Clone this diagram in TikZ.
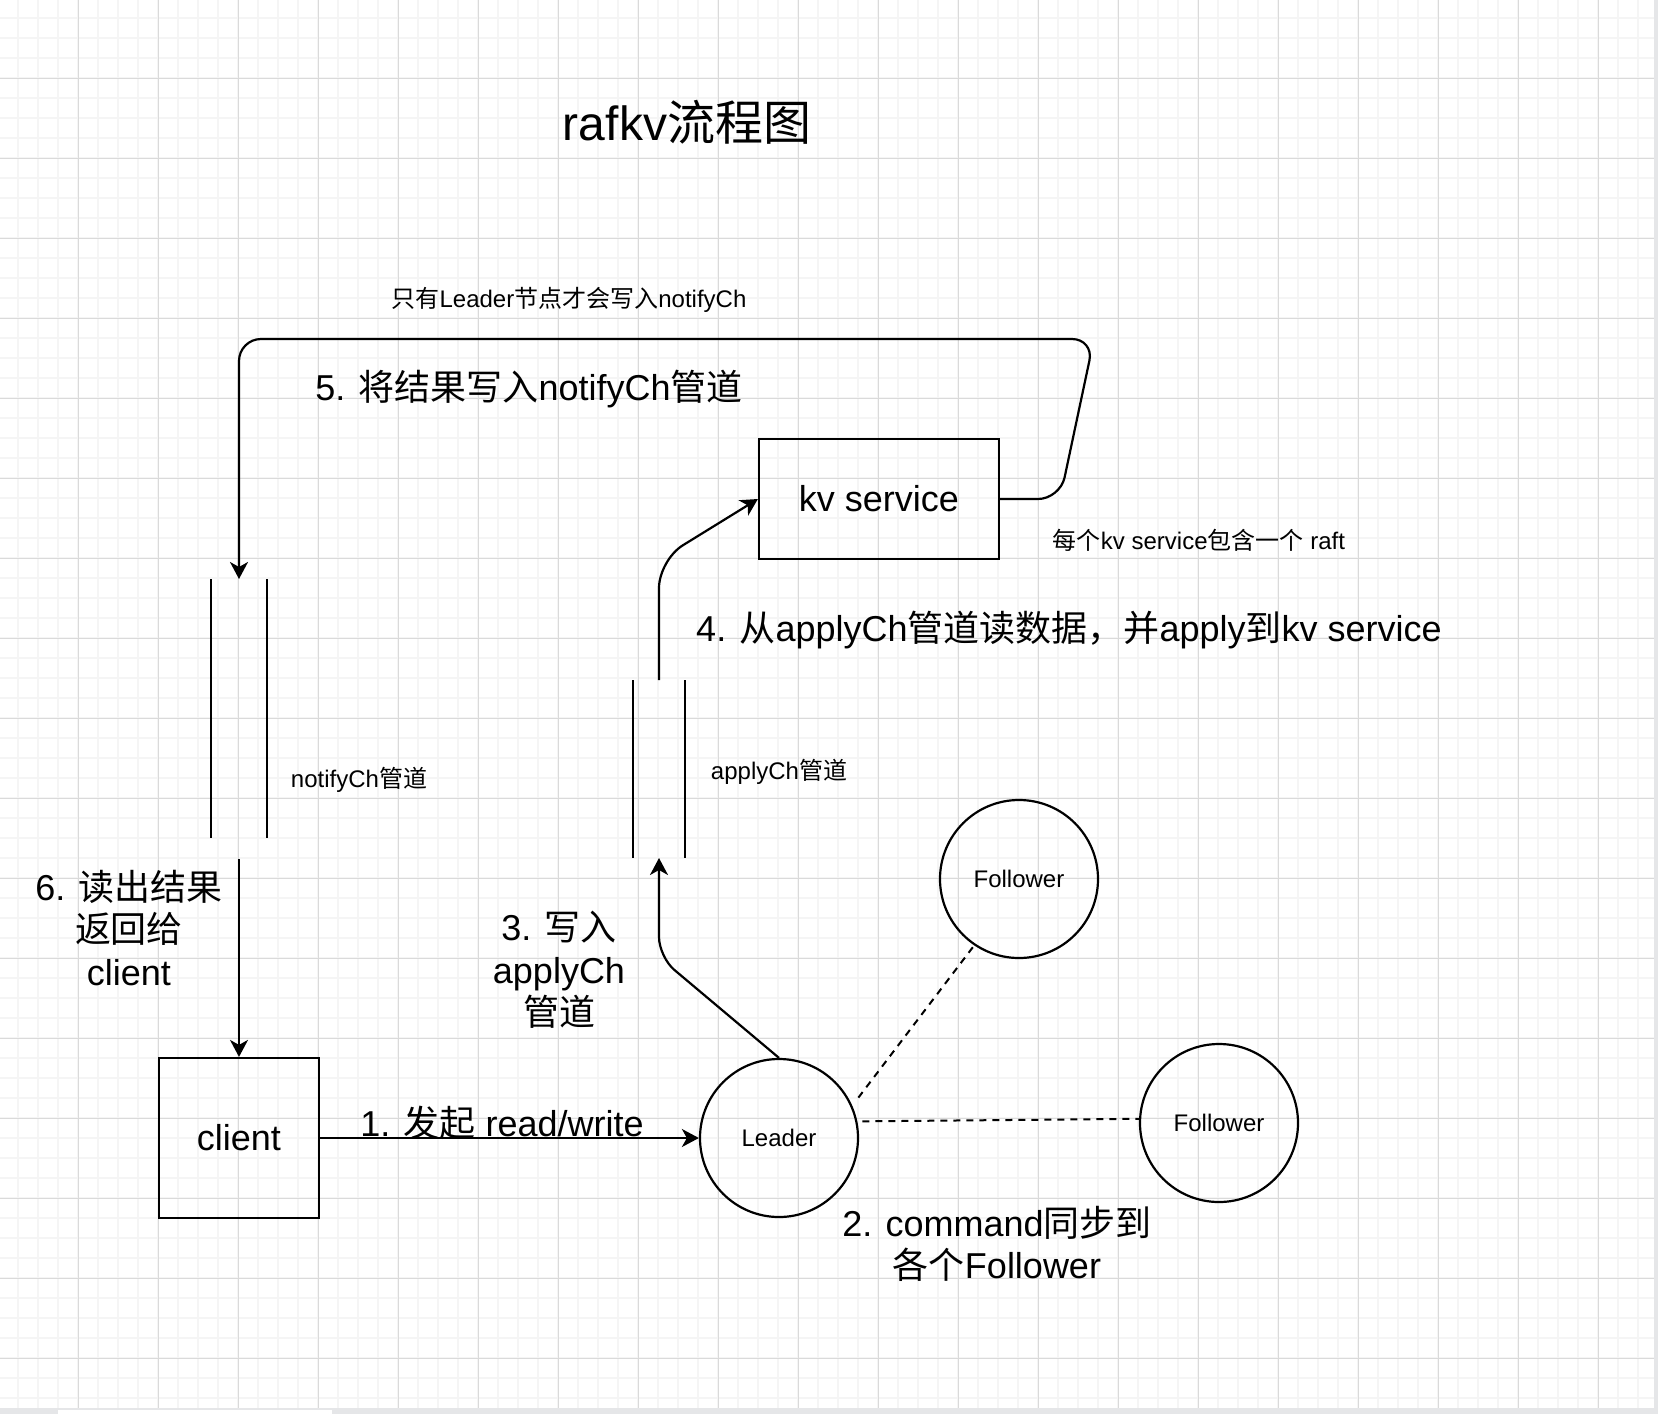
\documentclass[tikz,border=0pt]{standalone}
\usepackage{fontspec}
\setmainfont{Liberation Sans}
\newfontfamily\cjkfont{Noto Sans CJK SC}
\newcommand\zh[1]{{\cjkfont #1}}
\usetikzlibrary{arrows.meta}
\definecolor{minorgrid}{RGB}{245,245,245}
\definecolor{majorgrid}{RGB}{218,218,218}
\definecolor{edgegray}{RGB}{229,230,232}
\tikzset{
  ln/.style={line width=2.2pt, black},
  arr/.style={ln, -{Stealth[length=17pt,width=18pt,inset=5pt]}},
  dsh/.style={line width=2pt, dash pattern=on 7pt off 6pt},
  kvbox/.style={draw, line width=2.2pt, minimum width=240pt, minimum height=120pt, inner sep=0, font=\fontsize{36}{42.5}\selectfont},
  clientbox/.style={draw, line width=2.2pt, minimum width=160pt, minimum height=160pt, inner sep=0, font=\fontsize{36}{42.5}\selectfont},
  circnode/.style={circle, draw, line width=2.2pt, minimum size=158pt, inner sep=0, font=\fontsize{24}{28}\selectfont},
  pipe/.style={rectangle, inner sep=0, outer sep=0},
  big/.style={font=\fontsize{36}{42.5}\selectfont, align=center, inner sep=0},
  small/.style={font=\fontsize{24}{28}\selectfont, inner sep=0},
  titlefont/.style={font=\fontsize{48}{56}\selectfont, inner sep=0},
  minorline/.style={minorgrid, line width=1.4pt},
  majorline/.style={majorgrid, line width=1pt},
}
\begin{document}
\begin{tikzpicture}[x=1pt,y=-1pt]
\useasboundingbox (0,0) rectangle (1658,1414);
% background and frame strips
\fill[white] (0,0) rectangle (1658,1414);
\fill[edgegray] (0,1408) rectangle (1658,1414);
\fill[edgegray] (1654,0) rectangle (1658,1414);
\fill[white] (58,1410) rectangle (332,1414);
% grid
\foreach \x in {18,38,...,1638} \draw[minorline] (\x,0) -- (\x,1408);
\foreach \y in {18,38,...,1398} \draw[minorline] (0,\y) -- (1654,\y);
\foreach \x in {78,158,...,1598} \draw[majorline] (\x,0) -- (\x,1408);
\foreach \y in {78,158,...,1358} \draw[majorline] (0,\y) -- (1654,\y);

% main nodes
\node[kvbox] (kv) at (879,499) {kv service};
\node[clientbox] (client) at (239,1138) {client};
\node[circnode] (leader) at (779,1138) {Leader};
\node[circnode] (f1) at (1019,879) {Follower};
\node[circnode] (f2) at (1219,1123) {Follower};
\node[pipe, minimum width=56pt, minimum height=259pt] (np) at (239,708.5) {};
\node[pipe, minimum width=52pt, minimum height=178pt] (ap) at (659,769) {};
\draw[ln] (np.north west) -- (np.south west) (np.north east) -- (np.south east);
\draw[ln] (ap.north west) -- (ap.south west) (ap.north east) -- (ap.south east);

% texts
\node[titlefont] (title) at (687,122) {rafkv\zh{流程图}};
\node[small] (lbl0) at (569,300) {\zh{只有}Leader\zh{节点才会写入}notifyCh};
\node[big] (lbl5) at (529,389) {5. \zh{将结果写入}notifyCh\zh{管道}};
\node[small] (lblkv) at (1199,540) {\zh{每个}kv service\zh{包含一个} raft};
\node[big] (lbl4) at (1069,630) {4. \zh{从}applyCh\zh{管道读数据，并}apply\zh{到}kv service};
\node[small] (lblnp) at (359,780) {notifyCh\zh{管道}};
\node[small] (lblap) at (779,772) {applyCh\zh{管道}};
\node[big] (lbl6) at (129,928) {6. \zh{读出结果}\\\zh{返回给}\\client};
\node[big] (lbl3) at (559,970) {3. \zh{写入}\\applyCh\\\zh{管道}};
\node[big] (lbl1) at (502,1123) {1. \zh{发起} read/write};
\node[big] (lbl2) at (997,1244) {2. command\zh{同步到}\\\zh{各个}Follower};

% connectors
\draw[arr] (client) -- (leader);
\draw[arr, rounded corners=20pt] (leader.north) -- (659,957) -- (ap.south);
\draw[arr, rounded corners=28pt] (ap.north) -- (659,560) -- (kv.west);
\draw[arr, rounded corners=22pt] (kv.east) -- (1060,499) -- (1094,339) -- (239,339) -- (np.north);
\coordinate (n6) at (239,859);
\draw[arr] (n6) -- (client.north);
\draw[dsh] ([shift={(8,-4)}]leader.27) -- (f1.236);
\draw[dsh] ([shift={(5,0)}]leader.12) -- (f2.177);
\end{tikzpicture}
\end{document}
